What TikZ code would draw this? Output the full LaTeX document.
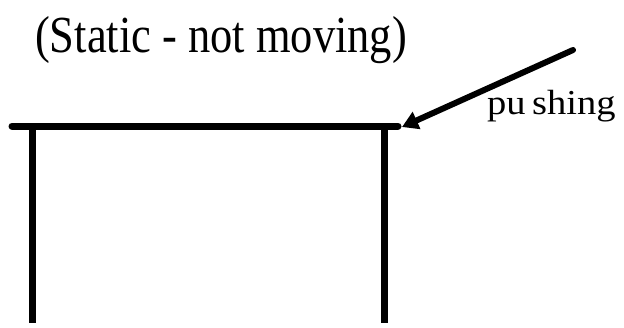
\documentclass[tikz,border=0pt]{standalone}
\usepackage{fontspec}
\setmainfont{Liberation Serif}
\usetikzlibrary{arrows.meta}

\begin{document}
\begin{tikzpicture}[x=1pt, y=-1pt,
   txt/.style={inner sep=0pt, anchor=base west},
   bar/.style={line width=7pt},
   push/.style={line width=6pt, line cap=round,
                -{Triangle[length=16pt, width=18pt]}}]
  \useasboundingbox (0,0) rectangle (624,327);
  \node[txt, font=\fontsize{52}{60}\selectfont, xscale=0.855] (title) at (35,52) {(Static - not moving)};
  \node[txt, font=\fontsize{35}{40}\selectfont, xscale=1.1] (pushing) at (487,114) {pu\,shing};
  % table
  \draw[bar, line cap=round] (12,126) -- (398,126);
  \draw[bar] (32,126) -- (32,323);
  \draw[bar] (384,126) -- (384,323);
  % force
  \coordinate (from) at (573,50);
  \coordinate (to) at (402,127);
  \draw[push] (from) -- (to);
\end{tikzpicture}
\end{document}
